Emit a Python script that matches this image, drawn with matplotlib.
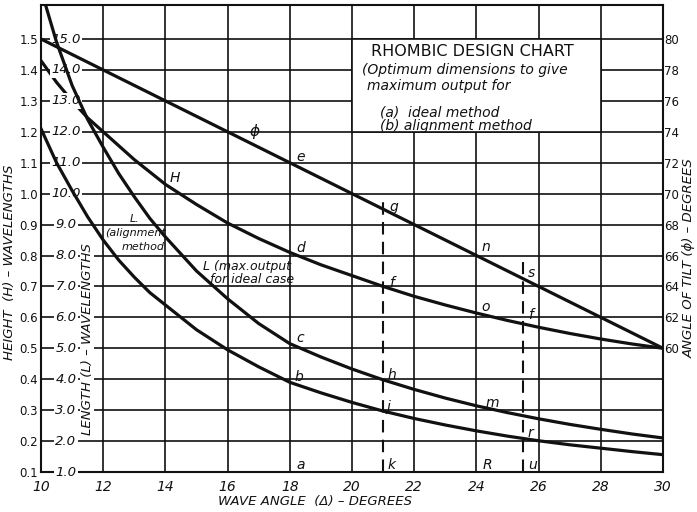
import matplotlib
matplotlib.use("Agg")
import matplotlib.pyplot as plt
from matplotlib.patches import Rectangle

# ---------------- data ----------------
wave_angle = [10, 10.5, 11, 11.5, 12, 12.5, 13, 13.5, 14, 15, 16, 17, 18, 19, 20,
              21, 22, 23, 24, 25, 26, 27, 28, 29, 30]
height_H = [1.43, 1.36, 1.30, 1.245, 1.20, 1.155, 1.11, 1.07, 1.03, 0.965, 0.905,
            0.855, 0.81, 0.77, 0.735, 0.70, 0.668, 0.64, 0.614, 0.59, 0.568, 0.548,
            0.53, 0.514, 0.50]
length_ideal = [16.6, 14.9, 13.5, 12.4, 11.5, 10.65, 9.9, 9.2, 8.6, 7.5, 6.6, 5.8,
                5.15, 4.72, 4.33, 3.98, 3.67, 3.39, 3.14, 2.92, 2.72, 2.54, 2.38, 2.23, 2.1]
length_align = [12.1, 11.0, 10.1, 9.25, 8.5, 7.85, 7.3, 6.8, 6.4, 5.6, 4.95, 4.4,
                3.9, 3.56, 3.25, 2.97, 2.73, 2.52, 2.33, 2.16, 2.01, 1.88, 1.77, 1.66, 1.56]
tilt_angle_x = [10, 12, 14, 16, 18, 20, 22, 24, 26, 28, 30]
tilt_angle = [80, 78, 76, 74, 72, 70, 68, 66, 64, 62, 60]

x_ticks = list(range(10, 31, 2))
h_ticks = [0.1, 0.2, 0.3, 0.4, 0.5, 0.6, 0.7, 0.8, 0.9, 1.0, 1.1, 1.2, 1.3, 1.4, 1.5]
h_labels = ["0.1", "0.2", "0.3", "0.4", "0.5", "0.6", "0.7", "0.8", "0.9", "1.0",
            "1.1", "1.2", "1.3", "1.4", "1.5"]
l_ticks = [1.0, 2.0, 3.0, 4.0, 5.0, 6.0, 7.0, 8.0, 9.0, 10.0, 11.0, 12.0, 13.0, 14.0, 15.0]
l_labels = ["1.0", "2.0", "3.0", "4.0", "5.0", "6.0", "7.0", "8.0", "9.0", "10.0",
            "11.0", "12.0", "13.0", "14.0", "15.0"]
tilt_ticks = [60, 62, 64, 66, 68, 70, 72, 74, 76, 78, 80]
marker_lines = [21, 25.5]

# ---------------- figure ----------------
FW, FH = 697, 512
fig = plt.figure(figsize=(FW / 100, FH / 100), dpi=100)
ax = fig.add_axes([41 / FW, 40 / FH, 622 / FW, 467 / FH])
ax.set_xlim(10, 30)
ax.set_ylim(0.1, 1.61)

ink = "#111111"
GRID_LW = 1.2
CURVE_LW = 2.3
fnt = "DejaVu Sans"

ax.set_xticks(x_ticks)
ax.set_xticklabels([str(v) for v in x_ticks], fontsize=10, style="italic", family=fnt)
ax.set_yticks(h_ticks)
ax.set_yticklabels(h_labels, fontsize=8.5, family=fnt)
ax.tick_params(axis="both", length=0, colors=ink)
ax.tick_params(axis="x", pad=6)
ax.tick_params(axis="y", pad=2)
ax.set_axisbelow(True)
ax.grid(True, color=ink, lw=GRID_LW)
for sp in ax.spines.values():
    sp.set_linewidth(GRID_LW + 0.3)
    sp.set_color(ink)

# title box covering grid
ax.add_patch(Rectangle((20, 1.2), 8, 0.3, facecolor="white", edgecolor=ink,
                       lw=GRID_LW, zorder=1))

# height curve
ax.plot(wave_angle, height_H, color=ink, lw=CURVE_LW, zorder=3)

# dashed marker lines
for xv, top in zip(marker_lines, [0.99, 0.78]):
    ax.plot([xv, xv], [0.1, top], color=ink, lw=1.5, ls=(0, (6, 3.5)), zorder=3)

# length axis (twin)
axL = ax.twinx()
axL.set_ylim(1.0, 16.1)
axL.set_yticks([])
axL.patch.set_visible(False)
for sp in axL.spines.values():
    sp.set_visible(False)
axL.plot(wave_angle, length_ideal, color=ink, lw=CURVE_LW, zorder=3)
axL.plot(wave_angle, length_align, color=ink, lw=CURVE_LW, zorder=3)
for v, lab_ in zip(l_ticks, l_labels):
    axL.text(10.8, v, lab_, ha="center", va="center", fontsize=9.5, family=fnt,
             style="italic", color=ink, zorder=2,
             bbox=dict(facecolor="white", edgecolor="none", pad=1.0))
axL.text(11.48, 5.3, "LENGTH (L) \u2013 WAVELENGTHS", rotation=90, ha="center",
         va="center", fontsize=9.5, style="italic", family=fnt, color=ink, zorder=2,
         bbox=dict(facecolor="white", edgecolor="none", pad=0.5))

# tilt axis (twin)
axT = ax.twinx()
axT.set_ylim(52, 82.2)
axT.set_yticks(tilt_ticks)
axT.set_yticklabels([str(v) for v in tilt_ticks], fontsize=8.5, family=fnt)
axT.tick_params(axis="y", length=0, pad=1, colors=ink)
axT.patch.set_visible(False)
for sp in axT.spines.values():
    sp.set_visible(False)
axT.plot(tilt_angle_x, tilt_angle, color=ink, lw=CURVE_LW, zorder=3)

# curve labels (on height scale)
def lab(x, y, s, size=10, **kw):
    ax.text(x, y, s, fontsize=size, style="italic", family=fnt, color=ink,
            ha="left", va="center", zorder=4, **kw)

lab(16.7, 1.20, "\u03d5", 11)
lab(14.15, 1.05, "H", 10)
lab(12.85, 0.918, "L.", 8)
lab(12.05, 0.872, "(alignment", 8)
lab(12.6, 0.828, "method", 8)
lab(15.2, 0.763, "L (max.output", 9)
lab(15.45, 0.722, "for ideal case", 9)

pts = [(18.2, 1.12, "e"), (18.2, 0.825, "d"), (21.2, 0.958, "g"), (21.2, 0.71, "f"),
       (18.2, 0.534, "c"), (18.15, 0.407, "b"), (21.15, 0.414, "h"), (21.1, 0.31, "j"),
       (18.2, 0.123, "a"), (21.15, 0.123, "k"), (24.15, 0.828, "n"), (25.65, 0.744, "s"),
       (24.15, 0.634, "o"), (25.65, 0.608, "f"), (24.3, 0.323, "m"), (25.65, 0.226, "r"),
       (24.2, 0.123, "R"), (25.65, 0.123, "u")]
for x, y, s in pts:
    lab(x, y, s, 10)

# texts in figure pixel coordinates
def ftext(px, py, s, **kw):
    fig.text(px / FW, 1 - py / FH, s, color=ink, family=fnt, **kw)

ftext(472, 52, "RHOMBIC DESIGN CHART", fontsize=11.5, ha="center", va="center")
ftext(362, 70, "(Optimum dimensions to give", fontsize=10, style="italic", ha="left", va="center")
ftext(367, 86, "maximum output for", fontsize=10, style="italic", ha="left", va="center")
ftext(380, 113, "(a)  ideal method", fontsize=10, style="italic", ha="left", va="center")
ftext(380, 126, "(b) alignment method", fontsize=10, style="italic", ha="left", va="center")

ftext(315, 502, "WAVE ANGLE  (\u0394) \u2013 DEGREES", fontsize=9.5, style="italic",
      ha="center", va="center")
ftext(10, 262, "HEIGHT  (H) \u2013 WAVELENGTHS", fontsize=9.5, style="italic",
      rotation=90, ha="center", va="center")
ftext(689, 258, "ANGLE OF TILT (\u03d5) \u2013 DEGREES", fontsize=9.5, style="italic",
      rotation=90, ha="center", va="center")

fig.savefig("out.png", dpi=100)
